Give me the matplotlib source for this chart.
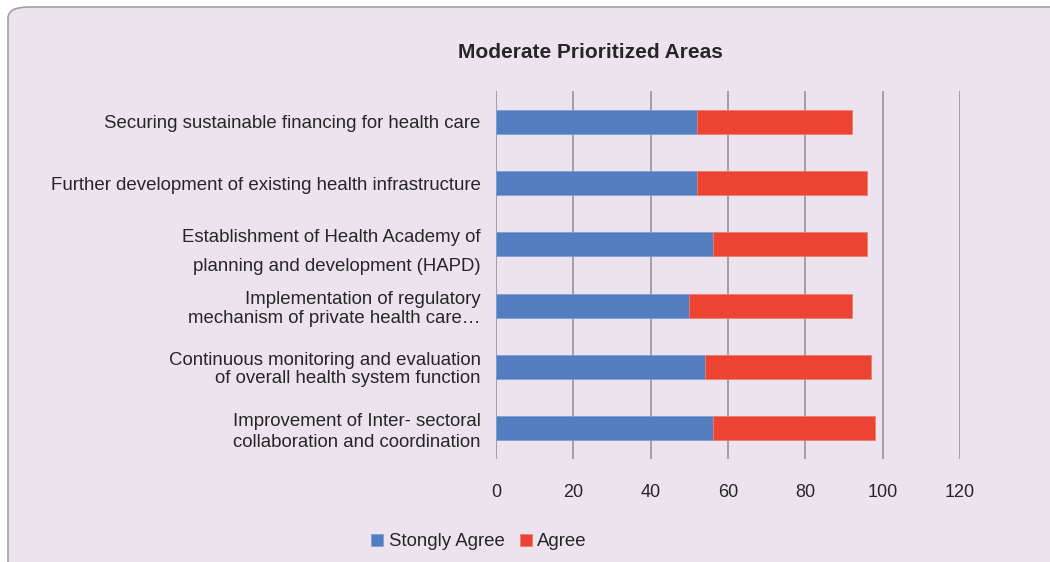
import numpy as np
import matplotlib.pyplot as plt
from matplotlib.patches import FancyBboxPatch

plt.rcParams['font.family'] = ['Liberation Sans', 'DejaVu Sans']

# areas, listed top to bottom
areas = [
    "Securing sustainable financing for health care",
    "Further development of existing health infrastructure",
    "Establishment of Health Academy of\nplanning and development (HAPD)",
    "Implementation of regulatory\nmechanism of private health care\u2026",
    "Continuous monitoring and evaluation\nof overall health system function",
    "Improvement of Inter- sectoral\ncollaboration and coordination",
]
strongly_agree = [52, 52, 56, 50, 54, 56]
agree = [40, 44, 40, 42, 43, 42]
x_ticks = [0, 20, 40, 60, 80, 100, 120]

bg = '#EDE3EF'
blue = '#527DC0'
red = '#EC4433'
txt = '#262626'

fig = plt.figure(figsize=(10.5, 5.62), dpi=100)
fig.patch.set_facecolor('white')

# rounded panel behind the chart
panel = FancyBboxPatch((8 / 1050, -0.05), 1.2, 1.05 - 7 / 562,
                       boxstyle='round,pad=0,rounding_size=0.02',
                       transform=fig.transFigure, facecolor=bg,
                       edgecolor='#A0A0A0', linewidth=1.2, zorder=-10)
fig.patches.append(panel)

ax = fig.add_axes([496 / 1050, 1 - 459 / 562, 464 / 1050, (459 - 91) / 562])
ax.set_facecolor('none')

y = np.arange(len(areas))
ax.barh(y, strongly_agree, height=0.39, color=blue, edgecolor='#7FA0D6',
        linewidth=0.6, label='Stongly Agree', zorder=3)
ax.barh(y, agree, left=strongly_agree, height=0.39, color=red,
        edgecolor='#F07A6E', linewidth=0.6, label='Agree', zorder=3)

ax.set_xlim(0, 120)
ax.set_ylim(len(areas) - 0.5, -0.5)
ax.set_xticks(x_ticks)
ax.set_xticklabels([str(t) for t in x_ticks], fontsize=13, color=txt)
ax.set_yticks(y)
labels = ax.set_yticklabels(areas, fontsize=13.4, color=txt)
for lab, ls in zip(labels, [1.2, 1.2, 1.87, 1.16, 1.1, 1.29]):
    lab.set_linespacing(ls)
ax.tick_params(axis='both', length=0)
ax.tick_params(axis='x', pad=18)
ax.tick_params(axis='y', pad=11)

ax.grid(axis='x', color='#A0A0A0', linewidth=1.4, zorder=1)
ax.set_axisbelow(True)
for s in ax.spines.values():
    s.set_visible(False)

fig.text(590 / 1050, 1 - 53 / 562, 'Moderate Prioritized Areas', ha='center',
         va='center', fontsize=15, fontweight='bold', color=txt)

fig.legend(loc='center', bbox_to_anchor=(479 / 1050, 1 - 542 / 562), ncol=2,
           frameon=False, fontsize=13.4, handlelength=0.65, handleheight=0.65,
           handletextpad=0.3, columnspacing=0.8, labelcolor=txt)

fig.savefig('out.png', dpi=100, facecolor='white')
